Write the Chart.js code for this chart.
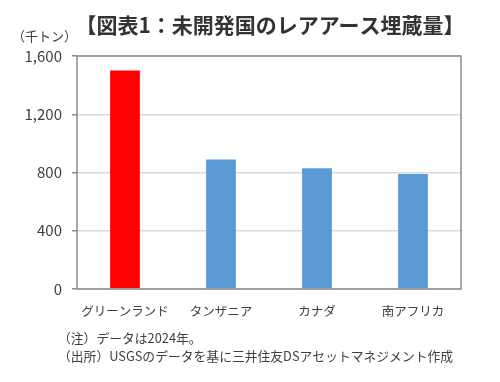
<!DOCTYPE html>
<html><head><meta charset="utf-8">
<script src="https://cdn.jsdelivr.net/npm/chart.js@4"></script>
<style>html,body{margin:0;padding:0;background:#fff}#wrap{width:500px;height:382px;position:relative}</style>
</head><body><div id="wrap"><canvas id="c" width="500" height="382"></canvas></div>
<script>
const title = "【図表1：未開発国のレアアース埋蔵量】";
const unitLabel = "（千トン）";
const categories = ["グリーンランド", "タンザニア", "カナダ", "南アフリカ"];
const reserves = [1500, 890, 830, 790];
const barColors = ["#FF0000", "#5B9BD5", "#5B9BD5", "#5B9BD5"];
const yTicks = [0, 400, 800, 1200, 1600];
const notes = ["（注）データは2024年。", "（出所）USGSのデータを基に三井住友DSアセットマネジメント作成"];

const FONT = "'Noto Sans CJK JP', 'Noto Sans', sans-serif";
const TXT = "#404040";

const deco = {
  id: 'deco',
  afterDraw(chart) {
    const ctx = chart.ctx, a = chart.chartArea;
    ctx.save();
    ctx.strokeStyle = "#8c8c8c";
    ctx.lineWidth = 1.5;
    ctx.strokeRect(a.left, a.top, a.right - a.left, a.bottom - a.top);
    ctx.fillStyle = "#333333";
    ctx.textBaseline = "middle";
    ctx.textAlign = "center";
    ctx.font = "bold 21px " + FONT;
    ctx.fillText(title, 270, 25);
    ctx.fillStyle = TXT;
    ctx.font = "13px " + FONT;
    ctx.textAlign = "left";
    ctx.fillText(unitLabel, 12, 36);
    ctx.font = "12.8px " + FONT;
    ctx.fillText(notes[0], 58, 338);
    ctx.fillText(notes[1], 58, 356);
    ctx.restore();
  }
};

new Chart(document.getElementById('c'), {
  type: 'bar',
  data: {
    labels: categories,
    datasets: [{ data: reserves, backgroundColor: barColors, borderWidth: 0,
      categoryPercentage: 1, barPercentage: 0.31 }]
  },
  options: {
    responsive: false, animation: false,
    devicePixelRatio: 1,
    layout: { padding: { top: 56, right: 39, bottom: 0, left: 0 } },
    plugins: { legend: { display: false }, tooltip: { enabled: false } },
    scales: {
      x: {
        afterFit: s => { s.height = 93; },
        grid: { display: false, drawTicks: false },
        border: { display: false },
        ticks: { padding: 15, color: TXT, font: { family: FONT, size: 12.5 }, maxRotation: 0 }
      },
      y: {
        min: 0, max: 1600,
        afterFit: s => { s.width = 77; },
        afterBuildTicks: s => { s.ticks = yTicks.map(v => ({ value: v })); },
        grid: { color: "#d9d9d9", lineWidth: 1.5, tickLength: 5, tickColor: "#8c8c8c" },
        border: { display: false },
        ticks: { padding: 10, color: TXT, font: { family: FONT, size: 15 },
          callback: v => v.toLocaleString('en-US') }
      }
    }
  },
  plugins: [deco]
});
</script></body></html>
